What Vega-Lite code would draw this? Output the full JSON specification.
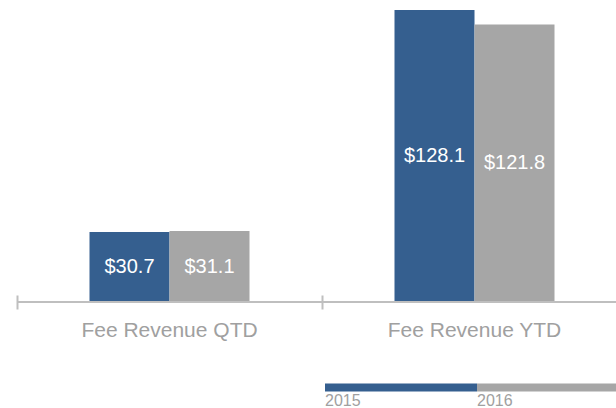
{
  "$schema": "https://vega.github.io/schema/vega-lite/v6.json",
  "width": 599,
  "height": 302,
  "autosize": "none",
  "padding": {"left": 17, "top": 0, "right": 0, "bottom": 106},
  "config": {"view": {"stroke": null}, "font": "Liberation Sans"},
  "data": {
    "values": [
      {"cat": "Fee Revenue QTD", "year": "2015", "value": 30.7},
      {"cat": "Fee Revenue QTD", "year": "2016", "value": 31.1},
      {"cat": "Fee Revenue YTD", "year": "2015", "value": 128.1},
      {"cat": "Fee Revenue YTD", "year": "2016", "value": 121.8}
    ]
  },
  "layer": [
    {
      "mark": {"type": "bar"},
      "encoding": {
        "x": {
          "field": "cat", "type": "nominal", "title": null,
          "scale": {"range": [0, 610], "paddingInner": 0, "paddingOuter": 0},
          "axis": {
            "bandPosition": 0, "offset": -7, "tickSize": 14,
            "domain": false, "tickColor": "#bfbfbf", "tickWidth": 2, "grid": false,
            "labelColor": "#a0a0a0", "labelFontSize": 21, "labelPadding": 10,
            "labelAngle": 0, "labelBaseline": "top", "labelFont": "Liberation Sans"
          }
        },
        "xOffset": {"field": "year", "type": "nominal", "scale": {"paddingInner": 0, "paddingOuter": 0.90625}},
        "y": {"field": "value", "type": "quantitative", "scale": {"domain": [0, 132.5], "nice": false}, "axis": null},
        "color": {
          "field": "year", "type": "nominal",
          "scale": {"range": ["#355f8f", "#a6a6a6"]},
          "legend": {
            "orient": "none", "legendX": 308, "legendY": 393, "direction": "horizontal",
            "title": null, "symbolType": "M-2,-4.375H36V-2.375H-2Z", "symbolSize": 64,
            "symbolStrokeWidth": 0, "symbolOpacity": 1, "labelOffset": -16, "columnPadding": 0,
            "labelFontSize": 16, "labelColor": "#a0a0a0", "padding": 0, "rowPadding": 0,
            "labelFont": "Liberation Sans"
          }
        }
      }
    },
    {
      "transform": [{"calculate": "datum.value / 2", "as": "mid"}],
      "mark": {"type": "text", "color": "white", "fontSize": 20, "align": "center", "baseline": "middle"},
      "encoding": {
        "x": {"field": "cat", "type": "nominal"},
        "xOffset": {"field": "year", "type": "nominal"},
        "y": {"field": "mid", "type": "quantitative", "axis": null},
        "text": {"field": "value", "type": "quantitative", "format": "$.1f"}
      }
    },
    {
      "data": {"values": [{}]},
      "mark": {"type": "rule", "color": "#bfbfbf", "strokeWidth": 2},
      "encoding": {"y": {"datum": 0, "type": "quantitative", "axis": null}}
    }
  ]
}
